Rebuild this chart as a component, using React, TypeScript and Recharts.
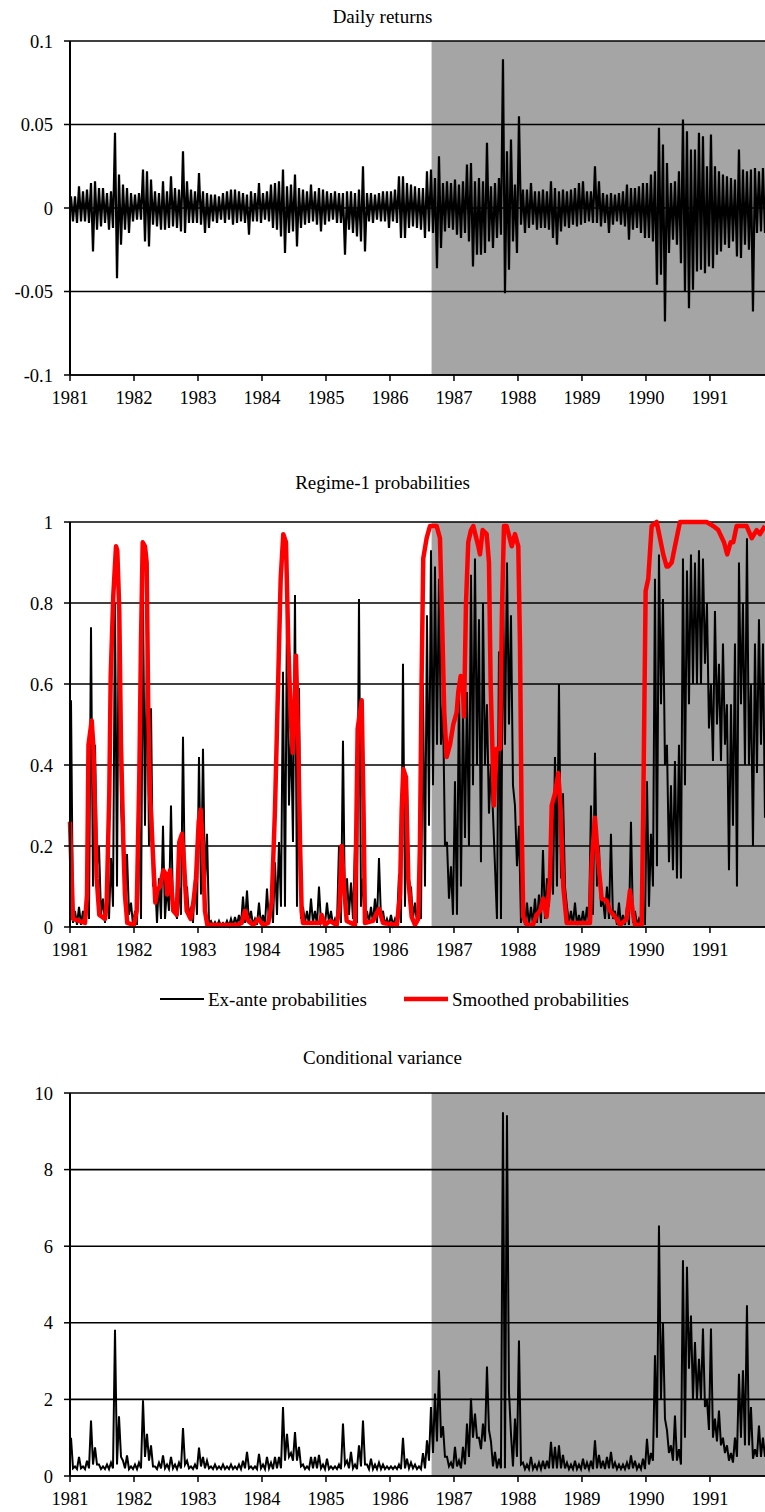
import { LineChart, Line, XAxis, YAxis, ReferenceArea, ReferenceLine } from 'recharts'

const START = 1981
const END = 1991.86
const STEP = 1 / 16 // one slice = 1/16 year
const SHADE_FROM = 1986.65

const yearTicks = [1981, 1982, 1983, 1984, 1985, 1986, 1987, 1988, 1989, 1990, 1991]
const returnTicks = [-0.1, -0.05, 0, 0.05, 0.1]
const probTicks = [0, 0.2, 0.4, 0.6, 0.8, 1]
const varTicks = [0, 2, 4, 6, 8, 10]

// Daily returns: highest / lowest value in each 1/16-year slice (units of 0.001)
const returnHi = [
  7, 7, 13, 10, 11, 15, 16, 12, 12, 9, 10, 45, 20, 14, 12, 9,
  8, 9, 23, 22, 17, 10, 9, 16, 10, 19, 12, 11, 34, 16, 11, 10,
  21, 10, 9, 8, 8, 7, 9, 10, 11, 11, 10, 9, 8, 10, 9, 15,
  9, 10, 14, 15, 16, 23, 13, 14, 20, 12, 11, 10, 14, 10, 12, 11,
  10, 9, 10, 9, 9, 10, 10, 9, 11, 25, 9, 9, 8, 9, 10, 10,
  10, 11, 19, 19, 15, 14, 13, 12, 12, 22, 23, 18, 31, 15, 16, 15,
  17, 14, 16, 26, 27, 16, 18, 16, 39, 13, 15, 18, 89, 34, 41, 14,
  55, 11, 11, 15, 10, 10, 11, 10, 16, 12, 10, 11, 10, 11, 12, 15,
  16, 10, 10, 25, 16, 9, 8, 9, 8, 9, 10, 14, 12, 12, 13, 15,
  15, 20, 22, 48, 38, 27, 15, 16, 22, 53, 46, 35, 35, 45, 43, 25,
  44, 25, 22, 20, 19, 18, 17, 35, 23, 22, 23, 24, 22, 24,
]
const returnLo = [
  -8, -9, -8, -8, -9, -26, -13, -11, -9, -13, -12, -42, -22, -13, -15, -8,
  -7, -7, -20, -23, -10, -11, -13, -13, -12, -11, -12, -14, -15, -9, -9, -9,
  -10, -15, -12, -8, -9, -7, -9, -7, -10, -9, -8, -9, -16, -8, -8, -9,
  -7, -8, -12, -13, -17, -27, -15, -14, -23, -12, -10, -9, -8, -10, -14, -10,
  -8, -7, -9, -9, -28, -13, -15, -17, -20, -26, -8, -9, -7, -8, -8, -12,
  -8, -9, -18, -18, -12, -11, -12, -13, -18, -14, -15, -36, -24, -14, -12, -13,
  -16, -18, -15, -20, -35, -28, -28, -27, -20, -24, -18, -16, -51, -37, -20, -27,
  -10, -15, -12, -10, -13, -12, -12, -13, -18, -22, -14, -11, -12, -10, -11, -10,
  -9, -8, -9, -9, -11, -9, -15, -10, -8, -10, -11, -19, -13, -12, -15, -18,
  -18, -20, -46, -40, -68, -27, -19, -22, -33, -50, -60, -49, -38, -37, -39, -35,
  -36, -28, -26, -22, -24, -20, -29, -30, -22, -25, -62, -15, -14, -15,
]

// Ex-ante regime-1 probabilities: highest / lowest in each slice
const exAnteHi = [
  0.56, 0.04, 0.05, 0.04, 0.12, 0.74, 0.45, 0.2, 0.07, 0.1, 0.17, 0.8, 0.87, 0.2, 0.18, 0.06,
  0.04, 0.3, 0.82, 0.7, 0.54, 0.12, 0.12, 0.25, 0.1, 0.3, 0.05, 0.1, 0.47, 0.1, 0.05, 0.12,
  0.42, 0.44, 0.23, 0.015, 0.012, 0.015, 0.01, 0.015, 0.02, 0.025, 0.03, 0.075, 0.09, 0.04, 0.02, 0.06,
  0.03, 0.095, 0.07, 0.16, 0.21, 0.63, 0.78, 0.49, 0.82, 0.59, 0.05, 0.04, 0.07, 0.04, 0.1, 0.02,
  0.06, 0.04, 0.02, 0.2, 0.46, 0.12, 0.11, 0.2, 0.81, 0.12, 0.04, 0.05, 0.07, 0.17, 0.04, 0.02,
  0.03, 0.02, 0.13, 0.65, 0.35, 0.1, 0.06, 0.08, 0.6, 0.77, 0.93, 0.89, 0.86, 0.55, 0.21, 0.15,
  0.36, 0.6, 0.55, 0.58, 0.87, 0.91, 0.76, 0.8, 0.55, 0.4, 0.15, 0.68, 0.84, 0.9, 0.77, 0.3,
  0.25, 0.05, 0.06, 0.05, 0.07, 0.08, 0.19, 0.12, 0.2, 0.42, 0.6, 0.33, 0.05, 0.04, 0.06, 0.03,
  0.04, 0.05, 0.3, 0.43, 0.2, 0.07, 0.1, 0.23, 0.04, 0.06, 0.03, 0.05, 0.26, 0.04, 0.02, 0.05,
  0.36, 0.23, 0.86, 0.92, 0.81, 0.45, 0.35, 0.41, 0.45, 0.91, 0.88, 0.92, 0.9, 0.93, 0.91, 0.8,
  0.6, 0.78, 0.65, 0.7, 0.55, 0.55, 0.7, 0.9, 0.8, 0.96, 0.6, 0.7, 0.76, 0.7,
]
const exAnteLo = [
  0.01, 0.005, 0.005, 0.01, 0.02, 0.1, 0.15, 0.03, 0.01, 0.02, 0.05, 0.1, 0.3, 0.05, 0.03, 0.005,
  0.005, 0.02, 0.25, 0.2, 0.1, 0.01, 0.02, 0.02, 0.04, 0.05, 0.02, 0.03, 0.08, 0.02, 0.01, 0.03,
  0.08, 0.1, 0.01, 0.003, 0.003, 0.003, 0.003, 0.003, 0.003, 0.005, 0.005, 0.01, 0.01, 0.005, 0.005, 0.005,
  0.005, 0.01, 0.01, 0.03, 0.05, 0.05, 0.3, 0.21, 0.05, 0.02, 0.01, 0.005, 0.01, 0.005, 0.01, 0.005,
  0.01, 0.005, 0.005, 0.01, 0.03, 0.03, 0.02, 0.01, 0.05, 0.02, 0.01, 0.01, 0.01, 0.02, 0.005, 0.005,
  0.005, 0.005, 0.01, 0.05, 0.08, 0.02, 0.01, 0.02, 0.1, 0.25, 0.35, 0.45, 0.45, 0.2, 0.07, 0.03,
  0.03, 0.1, 0.22, 0.2, 0.35, 0.4, 0.16, 0.4, 0.28, 0.28, 0.02, 0.02, 0.45, 0.5, 0.35, 0.15,
  0.01, 0.005, 0.005, 0.005, 0.01, 0.01, 0.02, 0.05, 0.08, 0.1, 0.12, 0.1, 0.01, 0.005, 0.005, 0.005,
  0.005, 0.01, 0.03, 0.1, 0.05, 0.02, 0.02, 0.02, 0.005, 0.005, 0.005, 0.005, 0.01, 0.005, 0.005, 0.005,
  0.05, 0.1, 0.15, 0.55, 0.4, 0.16, 0.14, 0.12, 0.12, 0.35, 0.55, 0.6, 0.6, 0.6, 0.65, 0.49,
  0.41, 0.5, 0.41, 0.45, 0.14, 0.25, 0.1, 0.55, 0.4, 0.4, 0.2, 0.38, 0.45, 0.27,
]

// Smoothed probabilities: turning points (year, value)
const smoothT = [
  1981.0, 1981.047, 1981.234, 1981.266, 1981.289, 1981.339, 1981.364, 1981.391, 1981.417, 1981.458, 1981.547,
  1981.573, 1981.614, 1981.636, 1981.677, 1981.719, 1981.739, 1981.77, 1981.797, 1981.833, 1981.859, 1981.895,
  1982.0, 1982.042, 1982.083, 1982.109, 1982.136, 1982.172, 1982.198, 1982.223, 1982.25, 1982.302, 1982.333,
  1982.364, 1982.406, 1982.458, 1982.5, 1982.52, 1982.563, 1982.614, 1982.667, 1982.708, 1982.75, 1982.781,
  1982.823, 1982.886, 1982.927, 1982.969,
  1983.011, 1983.042, 1983.073, 1983.109, 1983.145, 1983.605, 1983.683, 1983.734, 1983.786, 1983.864, 1983.942,
  1984.02, 1984.098, 1984.152, 1984.203, 1984.255, 1984.292, 1984.333, 1984.375, 1984.411, 1984.448, 1984.48,
  1984.505, 1984.531, 1984.567, 1984.594, 1984.62, 1984.641, 1984.906, 1984.933, 1984.984,
  1985.063, 1985.167, 1985.211, 1985.245, 1985.273, 1985.323, 1985.453, 1985.495, 1985.558, 1985.586, 1985.609,
  1985.734, 1985.828, 1985.891,
  1986.109, 1986.156, 1986.183, 1986.208, 1986.25, 1986.286, 1986.339, 1986.391, 1986.442, 1986.469, 1986.495,
  1986.52, 1986.573, 1986.625, 1986.73, 1986.781, 1986.823, 1986.848, 1986.886, 1986.938, 1986.989,
  1987.042, 1987.067, 1987.105, 1987.136, 1987.156, 1987.188, 1987.223, 1987.266, 1987.302, 1987.38, 1987.406,
  1987.448, 1987.511, 1987.547, 1987.573, 1987.625, 1987.667, 1987.719, 1987.75, 1987.781, 1987.823, 1987.902,
  1987.953,
  1988.005, 1988.031, 1988.058, 1988.083, 1988.141, 1988.234, 1988.292, 1988.344, 1988.395, 1988.448, 1988.5,
  1988.527, 1988.578, 1988.63, 1988.667, 1988.708, 1988.761,
  1989.125, 1989.152, 1989.203, 1989.255, 1989.308, 1989.386, 1989.438, 1989.542, 1989.594, 1989.698, 1989.75,
  1989.792, 1989.828, 1989.933, 1989.958, 1989.995,
  1990.036, 1990.089, 1990.167, 1990.219, 1990.27, 1990.323, 1990.348, 1990.402, 1990.453, 1990.531, 1990.844,
  1990.948,
  1991.052, 1991.13, 1991.219, 1991.27, 1991.323, 1991.364, 1991.417, 1991.573, 1991.652, 1991.73, 1991.781,
  1991.859,
]
const smoothP = [
  0.26, 0.02, 0.01, 0.08, 0.45, 0.51, 0.45, 0.29, 0.12, 0.03, 0.02,
  0.06, 0.33, 0.62, 0.82, 0.94, 0.93, 0.78, 0.45, 0.21, 0.08, 0.01,
  0.005, 0.04, 0.37, 0.7, 0.95, 0.94, 0.9, 0.53, 0.33, 0.16, 0.06,
  0.09, 0.1, 0.14, 0.13, 0.08, 0.14, 0.04, 0.03, 0.21, 0.23, 0.16,
  0.04, 0.02, 0.06, 0.12,
  0.26, 0.29, 0.21, 0.04, 0.005, 0.005, 0.01, 0.04, 0.015, 0.005, 0.02,
  0.005, 0.01, 0.06, 0.29, 0.62, 0.86, 0.97, 0.95, 0.7, 0.52, 0.43,
  0.53, 0.67, 0.45, 0.21, 0.04, 0.01, 0.01, 0.03, 0.005,
  0.015, 0.005, 0.05, 0.2, 0.12, 0.015, 0.005, 0.49, 0.56, 0.3, 0.01,
  0.015, 0.045, 0.01,
  0.005, 0.08, 0.29, 0.39, 0.37, 0.12, 0.025, 0.005, 0.02, 0.21, 0.62,
  0.91, 0.96, 0.99, 0.99, 0.96, 0.7, 0.53, 0.42, 0.45, 0.5,
  0.53, 0.58, 0.62, 0.6, 0.52, 0.8, 0.95, 0.98, 0.99, 0.94, 0.92,
  0.98, 0.97, 0.9, 0.6, 0.3, 0.44, 0.44, 0.78, 0.99, 0.99, 0.94,
  0.97,
  0.94, 0.7, 0.25, 0.025, 0.005, 0.005, 0.03, 0.04, 0.07, 0.025, 0.12,
  0.3, 0.33, 0.38, 0.29, 0.1, 0.01,
  0.01, 0.16, 0.27, 0.16, 0.07, 0.065, 0.04, 0.02, 0.005, 0.02, 0.09,
  0.04, 0.005, 0.005, 0.3, 0.83,
  0.86, 0.99, 1.0, 0.96, 0.92, 0.89, 0.89, 0.9, 0.94, 1.0, 1.0,
  1.0,
  0.99, 0.98, 0.95, 0.92, 0.95, 0.95, 0.99, 0.99, 0.96, 0.98, 0.97,
  0.99,
]

// Conditional variance: highest / lowest in each slice
const varHi = [
  1.0, 0.25, 0.5, 0.25, 0.4, 1.45, 0.75, 0.3, 0.25, 0.3, 0.35, 3.82, 1.56, 0.4, 0.54, 0.25,
  0.3, 0.35, 1.98, 1.1, 0.8, 0.25, 0.35, 0.54, 0.3, 0.5, 0.3, 0.35, 1.25, 0.4, 0.25, 0.3,
  0.74, 0.5, 0.4, 0.25, 0.3, 0.25, 0.3, 0.25, 0.3, 0.25, 0.3, 0.4, 0.63, 0.25, 0.25, 0.58,
  0.3, 0.5, 0.35, 0.5, 0.5, 1.8, 1.1, 0.6, 1.15, 0.76, 0.3, 0.25, 0.5, 0.5, 0.55, 0.3,
  0.45, 0.25, 0.25, 0.3, 1.37, 0.4, 0.63, 0.3, 0.8, 1.45, 0.3, 0.45, 0.3, 0.35, 0.3, 0.25,
  0.25, 0.25, 0.3, 1.0, 0.45, 0.35, 0.3, 0.25, 0.6, 0.93, 1.8, 2.15, 2.76, 1.3, 0.5, 0.35,
  0.76, 0.4, 0.76, 1.37, 2.02, 1.63, 1.0, 1.37, 2.86, 0.9, 0.63, 0.45, 9.5, 9.42, 1.1, 1.5,
  3.54, 0.35, 0.3, 0.5, 0.3, 0.35, 0.4, 0.4, 0.89, 0.76, 0.8, 0.55, 0.35, 0.3, 0.4, 0.3,
  0.45, 0.35, 0.4, 0.93, 0.55, 0.4, 0.5, 0.63, 0.35, 0.3, 0.3, 0.35, 0.54, 0.4, 0.3, 0.45,
  0.97, 0.6, 3.15, 6.54, 4.0, 1.2, 0.8, 1.58, 0.7, 5.63, 5.46, 4.19, 3.5, 3.06, 3.85, 2.0,
  3.85, 1.5, 1.71, 1.0, 0.8, 0.6, 1.0, 2.67, 2.76, 4.46, 1.8, 0.7, 1.32, 1.0,
]
const varLo = [
  0.2, 0.18, 0.2, 0.18, 0.2, 0.3, 0.3, 0.18, 0.18, 0.18, 0.2, 0.3, 0.5, 0.2, 0.18, 0.18,
  0.18, 0.2, 0.5, 0.4, 0.25, 0.18, 0.2, 0.2, 0.18, 0.2, 0.18, 0.2, 0.3, 0.2, 0.18, 0.18,
  0.25, 0.2, 0.2, 0.18, 0.18, 0.18, 0.18, 0.18, 0.18, 0.18, 0.18, 0.2, 0.2, 0.18, 0.18, 0.2,
  0.18, 0.2, 0.18, 0.2, 0.2, 0.4, 0.5, 0.4, 0.4, 0.25, 0.18, 0.18, 0.2, 0.2, 0.2, 0.18,
  0.18, 0.18, 0.18, 0.18, 0.3, 0.2, 0.2, 0.18, 0.25, 0.3, 0.18, 0.18, 0.18, 0.18, 0.18, 0.18,
  0.18, 0.18, 0.18, 0.2, 0.2, 0.2, 0.18, 0.18, 0.2, 0.4, 0.6, 0.9, 1.0, 0.5, 0.25, 0.2,
  0.25, 0.2, 0.3, 0.5, 1.0, 1.0, 0.7, 0.9, 1.2, 0.25, 0.2, 0.2, 0.2, 2.2, 0.25, 0.5,
  0.3, 0.18, 0.18, 0.18, 0.18, 0.18, 0.18, 0.2, 0.2, 0.2, 0.2, 0.2, 0.18, 0.18, 0.18, 0.18,
  0.18, 0.18, 0.18, 0.2, 0.2, 0.18, 0.2, 0.2, 0.18, 0.18, 0.18, 0.18, 0.2, 0.18, 0.18, 0.18,
  0.3, 0.4, 1.0, 2.0, 1.5, 0.6, 0.4, 0.4, 0.3, 1.0, 2.8, 2.0, 2.0, 2.0, 1.8, 1.2,
  1.0, 0.9, 0.8, 0.6, 0.4, 0.35, 0.5, 1.0, 0.8, 0.8, 0.45, 0.5, 0.5, 0.5,
]

// each slice becomes a high point then a low point inside the slice
function envelope(hi: number[], lo: number[], scale = 1) {
  const out: { t: number; v: number }[] = []
  hi.forEach((h, i) => {
    out.push({ t: START + (i + 0.25) * STEP, v: h * scale })
    out.push({ t: START + (i + 0.75) * STEP, v: lo[i] * scale })
  })
  return out
}

const returnData = envelope(returnHi, returnLo, 0.001)
const exAnteData = envelope(exAnteHi, exAnteLo)
const smoothData = smoothT.map((t, i) => ({ t, v: smoothP[i] }))
const varData = envelope(varHi, varLo)

const FONT = '"Liberation Serif", "Times New Roman", Times, serif'
const W = 765
const X_AXIS_H = 40
const tickStyle = { fontFamily: FONT, fontSize: 18.5, fill: '#000' }

// axes, grey regime band and black grid lines shared by the three panels
function frame(yTicks: number[], yDomain: [number, number]) {
  return [
    <XAxis
      key="x"
      type="number"
      dataKey="t"
      domain={[START, END]}
      ticks={yearTicks}
      interval={0}
      height={X_AXIS_H}
      tickSize={6}
      tickMargin={10}
      tick={tickStyle}
      axisLine={{ stroke: '#000', strokeWidth: 1.5 }}
      tickLine={{ stroke: '#000', strokeWidth: 1.5 }}
    />,
    <YAxis
      key="y"
      type="number"
      domain={yDomain}
      ticks={yTicks}
      interval={0}
      width={70}
      tickSize={6}
      tickMargin={11}
      tick={tickStyle}
      axisLine={{ stroke: '#000', strokeWidth: 2 }}
      tickLine={{ stroke: '#000', strokeWidth: 1.5 }}
    />,
    <ReferenceArea key="shade" x1={SHADE_FROM} x2={END} fill="#a5a5a5" fillOpacity={1} stroke="none" />,
    ...yTicks.map(v => <ReferenceLine key={'g' + v} y={v} stroke="#000" strokeWidth={1.6} />),
  ]
}

const titleStyle = (top: number): React.CSSProperties => ({
  position: 'absolute',
  top,
  left: 0,
  width: W,
  textAlign: 'center',
  fontFamily: FONT,
  fontSize: 19,
  lineHeight: '22px',
  color: '#000',
})

export default function App() {
  return (
    <div style={{ position: 'absolute', left: 0, top: 0, width: W, height: 1512, overflow: 'hidden', background: '#fff', fontFamily: FONT }}>
      {/* Daily returns */}
      <div style={titleStyle(6)}>Daily returns</div>
      <div style={{ position: 'absolute', left: 0, top: 0 }}>
        <LineChart width={W} height={375 + X_AXIS_H} data={returnData} margin={{ top: 41, right: 0, bottom: 0, left: 0 }}>
          {frame(returnTicks, [-0.1, 0.1])}
          <Line dataKey="v" type="linear" stroke="#000" strokeWidth={2.2} dot={false} isAnimationActive={false} />
        </LineChart>
      </div>

      {/* Regime-1 probabilities */}
      <div style={titleStyle(472)}>Regime-1 probabilities</div>
      <div style={{ position: 'absolute', left: 0, top: 481 }}>
        <LineChart width={W} height={446 + X_AXIS_H} margin={{ top: 41, right: 0, bottom: 0, left: 0 }}>
          {frame(probTicks, [0, 1])}
          <Line data={exAnteData} dataKey="v" type="linear" stroke="#000" strokeWidth={2} dot={false} isAnimationActive={false} />
          <Line data={smoothData} dataKey="v" type="linear" stroke="#ff0000" strokeWidth={4.5} strokeLinejoin="round" dot={false} isAnimationActive={false} />
        </LineChart>
      </div>

      {/* legend */}
      <svg style={{ position: 'absolute', left: 0, top: 984 }} width={W} height={30}>
        <line x1={160} x2={204} y1={15} y2={15} stroke="#000" strokeWidth={2} />
        <text x={208} y={15} dy="0.35em" fontFamily={FONT} fontSize={19} fill="#000">Ex-ante probabilities</text>
        <line x1={404} x2={448} y1={15} y2={15} stroke="#ff0000" strokeWidth={4.5} />
        <text x={452} y={15} dy="0.35em" fontFamily={FONT} fontSize={19} fill="#000">Smoothed probabilities</text>
      </svg>

      {/* Conditional variance */}
      <div style={titleStyle(1047)}>Conditional variance</div>
      <div style={{ position: 'absolute', left: 0, top: 1052 }}>
        <LineChart width={W} height={424 + X_AXIS_H} data={varData} margin={{ top: 41, right: 0, bottom: 0, left: 0 }}>
          {frame(varTicks, [0, 10])}
          <Line dataKey="v" type="linear" stroke="#000" strokeWidth={2} dot={false} isAnimationActive={false} />
        </LineChart>
      </div>
    </div>
  )
}
